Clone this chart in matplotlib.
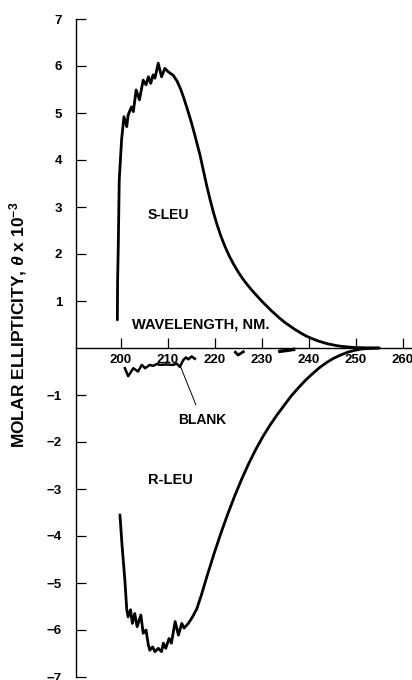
import matplotlib
matplotlib.use("Agg")
import matplotlib.pyplot as plt

plt.rcParams['font.family'] = ['Liberation Sans', 'DejaVu Sans']
plt.rcParams['mathtext.fontset'] = 'custom'
plt.rcParams['mathtext.it'] = 'Liberation Sans:italic:bold'
plt.rcParams['mathtext.rm'] = 'Liberation Sans:bold'

# S-LEU
s_wl = [199.3, 199.35, 199.5, 199.7, 200.2, 200.7, 201.3, 201.6, 202.3, 202.7,
        203.3, 204.0, 204.8, 205.4, 205.9, 206.4, 206.9, 207.3, 208.0, 208.7,
        209.4, 210.1, 211.2, 212.0, 212.8, 213.5, 214.2, 214.9, 215.6, 216.3,
        216.9, 217.6, 218.3, 219.0, 219.7, 220.5, 221.3, 222.2, 223.1, 224.0,
        225.0, 226.0, 227.0, 228.0, 229.0, 230.0, 231.0, 232.0, 233.0, 234.0,
        235.0, 236.0, 237.0, 238.0, 239.0, 240.0, 241.0, 242.0, 243.0, 244.0,
        245.0, 246.0, 247.0, 248.5, 250.0, 252.0, 255.0]
s_val = [0.60, 1.40, 2.19, 3.57, 4.43, 4.92, 4.71, 4.96, 5.13, 5.03,
         5.49, 5.28, 5.70, 5.60, 5.77, 5.63, 5.81, 5.74, 6.06, 5.77,
         5.95, 5.88, 5.80, 5.68, 5.50, 5.30, 5.08, 4.85, 4.60, 4.33,
         4.10, 3.78, 3.46, 3.17, 2.90, 2.63, 2.39, 2.16, 1.96, 1.79,
         1.62, 1.47, 1.34, 1.22, 1.11, 1.00, 0.90, 0.80, 0.71, 0.62,
         0.54, 0.47, 0.40, 0.34, 0.28, 0.23, 0.19, 0.15, 0.12, 0.09,
         0.07, 0.05, 0.035, 0.02, 0.01, 0.005, 0.0]

# R-LEU
r_wl = [199.85, 200.3, 200.9, 201.3, 201.6, 202.1, 202.5, 203.0, 203.5, 204.3,
        204.8, 205.4, 205.9, 206.2, 206.8, 207.3, 208.0, 208.7, 209.1, 209.6,
        210.3, 210.8, 211.6, 212.3, 213.0, 213.5, 214.4, 215.3, 216.2, 217.2,
        218.3, 219.8, 221.3, 222.8, 224.3, 225.8, 227.3, 228.8, 230.3, 231.8,
        233.3, 234.8, 236.3, 237.8, 239.3, 240.8, 242.3, 243.8, 245.3, 246.8,
        248.3, 249.8, 251.3, 253.0, 255.0]
r_val = [-3.55, -4.2, -4.94, -5.57, -5.72, -5.57, -5.86, -5.65, -5.93, -5.68,
         -6.07, -6.0, -6.32, -6.43, -6.36, -6.46, -6.39, -6.46, -6.28, -6.39,
         -6.18, -6.28, -5.82, -6.11, -5.86, -5.96, -5.86, -5.72, -5.55, -5.25,
         -4.88, -4.40, -3.95, -3.53, -3.14, -2.78, -2.45, -2.15, -1.88, -1.64,
         -1.42, -1.22, -1.02, -0.85, -0.69, -0.55, -0.42, -0.31, -0.22, -0.15,
         -0.09, -0.05, -0.02, -0.01, 0.0]

# blank (broken trace)
b_wl = [200.9, 201.6, 202.7, 203.7, 204.5, 205.2, 206.2, 206.9, 207.7, 208.4,
        209.5, 211.2, 211.9, 212.6, 213.3, 213.9, 214.4, 215.1, 215.8]
b_val = [-0.43, -0.60, -0.43, -0.50, -0.36, -0.43, -0.36, -0.38, -0.34, -0.36,
         -0.35, -0.36, -0.33, -0.40, -0.26, -0.20, -0.24, -0.18, -0.23]
b2_wl = [224.4, 225.0, 226.1]
b2_val = [-0.09, -0.15, -0.08]
b3_wl = [233.9, 235.5, 236.8]
b3_val = [-0.07, -0.05, -0.03]

x_ticks = [200, 210, 220, 230, 240, 250, 260]
y_ticks = [-7, -6, -5, -4, -3, -2, -1, 1, 2, 3, 4, 5, 6, 7]

fig = plt.figure(figsize=(4.12, 6.8), dpi=100)
ax = fig.add_axes([76 / 412, 3 / 680, 336 / 412, 658 / 680])

ax.plot(s_wl, s_val, color='black', lw=2.0, solid_capstyle='round',
        solid_joinstyle='round')
ax.plot(r_wl, r_val, color='black', lw=2.0, solid_capstyle='round',
        solid_joinstyle='round')
ax.plot(b_wl, b_val, color='black', lw=1.8, solid_joinstyle='round')
ax.plot(b2_wl, b2_val, color='black', lw=2.0)
ax.plot(b3_wl, b3_val, color='black', lw=2.5)

ax.set_xlim(190.5, 262.0)
ax.set_ylim(-7, 7)

ax.spines['top'].set_visible(False)
ax.spines['right'].set_visible(False)
ax.spines['bottom'].set_position(('data', 0))
ax.spines['left'].set_linewidth(1.0)
ax.spines['bottom'].set_linewidth(1.0)

ax.set_xticks(x_ticks)
ax.set_yticks(y_ticks)
ax.tick_params(axis='both', direction='in', length=7, width=0.9,
               labelsize=9.5, colors='black')
ax.tick_params(axis='x', pad=4)
ax.tick_params(axis='y', pad=10)
for lbl in ax.get_xticklabels() + ax.get_yticklabels():
    lbl.set_fontweight('bold')

ax.text(217.0, 0.49, 'WAVELENGTH, NM.', ha='center', va='center',
        fontsize=10.5, fontweight='bold')
ax.text(210.1, 2.83, 'S-LEU', ha='center', va='center',
        fontsize=10, fontweight='bold')
ax.text(210.5, -2.81, 'R-LEU', ha='center', va='center',
        fontsize=10.5, fontweight='bold')
ax.annotate('BLANK', xy=(212.6, -0.36), xytext=(217.3, -1.53),
            ha='center', va='center', fontsize=10, fontweight='bold',
            arrowprops=dict(arrowstyle='-', lw=0.7, color='black',
                            shrinkA=4, shrinkB=0))

fig.text(18 / 412, 1 - 325 / 680,
         r'MOLAR ELLIPTICITY, $\theta$ x 10$^{-3}$',
         rotation=90, ha='center', va='center',
         fontsize=12.5, fontweight='bold')

fig.savefig('out.png', dpi=100)
